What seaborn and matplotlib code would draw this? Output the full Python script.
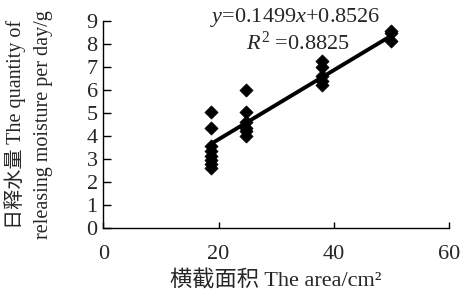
import numpy as np
import pandas as pd
import seaborn as sns
from matplotlib import pyplot as plt

# cross-section area (cm2) and daily released moisture (g)
area = [18.7, 18.7, 18.7, 18.7, 18.7, 18.7, 18.7, 18.7,
        24.8, 24.8, 24.8, 24.8, 24.8, 24.8,
        37.9, 37.9, 37.9, 37.9, 37.9,
        49.9, 49.9, 49.9]
moisture = [5.05, 4.35, 3.55, 3.35, 3.15, 2.95, 2.8, 2.6,
            6.0, 5.05, 4.6, 4.35, 4.2, 4.0,
            7.25, 7.0, 6.6, 6.4, 6.2,
            8.55, 8.45, 8.1]

slope = 0.1499
intercept = 0.8526
r_squared = 0.8825

x_ticks = [0, 20, 40, 60]
y_ticks = [0, 1, 2, 3, 4, 5, 6, 7, 8, 9]


def main():
    sns.set_style("ticks")
    plt.rcParams['font.family'] = ['Liberation Serif', 'Noto Sans CJK SC']
    plt.rcParams['mathtext.fontset'] = 'custom'
    plt.rcParams['mathtext.rm'] = 'Liberation Serif'
    plt.rcParams['mathtext.it'] = 'Liberation Serif:italic'

    data = pd.DataFrame({"area": area, "moisture": moisture})

    fig = plt.figure(figsize=(4.61, 2.98), dpi=100)
    ax = fig.add_axes([0.224, 0.234, 0.750, 0.697])

    line_x = np.array([min(area), max(area)])
    fit = pd.DataFrame({"area": line_x, "moisture": slope * line_x + intercept})
    sns.lineplot(data=fit, x="area", y="moisture", color="black", linewidth=2.8, ax=ax)
    sns.scatterplot(data=data, x="area", y="moisture", marker="D", color="black",
                    s=45, edgecolor="black", linewidth=0.5, ax=ax, zorder=3)

    ax.set_xlim(0, 60)
    ax.set_ylim(0, 9)
    ax.set_xticks(x_ticks)
    ax.set_yticks(y_ticks)
    ax.tick_params(axis='both', labelsize=16, direction='in', width=1, color='black')
    ax.tick_params(axis='y', length=6, pad=4)
    ax.tick_params(axis='x', length=4, pad=12)
    sns.despine(ax=ax)
    for side in ['left', 'bottom']:
        ax.spines[side].set_color('black')
        ax.spines[side].set_linewidth(1)

    ax.set_xlabel("横截面积 The area/cm²", fontsize=16, labelpad=5)
    ax.set_ylabel("日释水量 The quantity of\nreleasing moisture per day/g", fontsize=14.5,
                  labelpad=24, linespacing=1.6)

    ax.text(33.3, 9.15, f"$y$=0.1499$x$+0.8526", fontsize=16, ha='center', va='center',
            clip_on=False)
    ax.text(33.8, 8.02, f"$R^2$ ={r_squared}", fontsize=16, ha='center', va='center')

    fig.savefig("out.png", dpi=100)


if __name__ == "__main__":
    main()
